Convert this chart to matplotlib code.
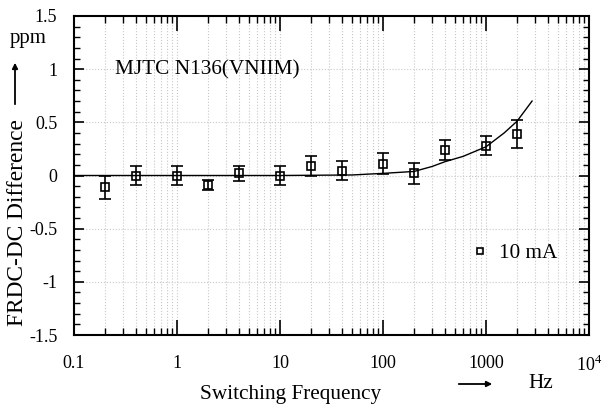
import matplotlib
matplotlib.use("Agg")
import matplotlib.pyplot as plt
from matplotlib.ticker import FixedLocator, NullFormatter, MultipleLocator

plt.rcParams['font.family'] = ['Liberation Serif', 'DejaVu Serif']
plt.rcParams['mathtext.fontset'] = 'custom'
plt.rcParams['mathtext.rm'] = 'Liberation Serif'

# data
freq = [0.2, 0.4, 1, 2, 4, 10, 20, 40, 100, 200, 400, 1000, 2000]
diff = [-0.11, 0.0, 0.0, -0.09, 0.02, 0.0, 0.09, 0.045, 0.11, 0.02, 0.24, 0.28, 0.39]
err = [0.11, 0.09, 0.09, 0.05, 0.07, 0.09, 0.09, 0.09, 0.10, 0.10, 0.09, 0.09, 0.13]

curve_f = [0.1, 1, 10, 50, 100, 200, 300, 400, 600, 1000, 1500, 2000, 2800]
curve_y = [0.0, 0.0, 0.0, 0.005, 0.02, 0.038, 0.085, 0.13, 0.18, 0.27, 0.40, 0.51, 0.70]

xticks = [0.1, 1, 10, 100, 1000, 10000]
xticklabels = ['0.1', '1', '10', '100', '1000', r'$10^4$']
yticks = [-1.5, -1, -0.5, 0, 0.5, 1, 1.5]
yticklabels = ['-1.5', '-1', '-0.5', '0', '0.5', '1', '1.5']

fig = plt.figure(figsize=(6.03, 4.05), dpi=100)
ax = fig.add_axes([74/603, 1-335/405, (589-74)/603, (335-16)/405])

ax.plot(curve_f, curve_y, color='black', lw=1.0, zorder=3)
ax.errorbar(freq, diff, yerr=err, fmt='s', mfc='none', mec='black', mew=1.2,
            ms=5.5, ecolor='black', elinewidth=1.2, capsize=4, capthick=1.2, zorder=4)

ax.set_xscale('log')
ax.set_xlim(0.1, 10000)
ax.set_ylim(-1.5, 1.5)
ax.set_xticks(xticks)
ax.set_xticklabels(xticklabels, fontsize=13)
ax.xaxis.set_minor_locator(FixedLocator([m * 10**e for e in range(-1, 4) for m in range(2, 10)]))
ax.xaxis.set_minor_formatter(NullFormatter())
ax.set_yticks(yticks)
ax.set_yticklabels(yticklabels, fontsize=13)
ax.yaxis.set_minor_locator(MultipleLocator(0.1))

ax.tick_params(axis='x', which='major', direction='in', length=11, width=1.2, top=True, pad=14.5)
ax.tick_params(axis='x', which='minor', direction='in', length=5, width=1.0, top=True)
ax.tick_params(axis='y', which='major', direction='in', length=7, width=1.2, right=True, pad=12)
ax.tick_params(axis='y', which='minor', direction='in', length=4, width=1.0, right=True)
for s in ax.spines.values():
    s.set_linewidth(1.5)

ax.grid(True, which='major', axis='both', color='#c8c8c8', ls=':', lw=0.8)
ax.grid(True, which='minor', axis='x', color='#c8c8c8', ls=':', lw=0.8)
ax.set_axisbelow(True)

fig.text(115/603, 1-70/405, 'MJTC N136(VNIIM)', fontsize=15.3, va='center', ha='left')

# legend
ax.plot([880], [-0.71], 's', mfc='none', mec='black', mew=1.2, ms=5)
fig.text(499/603, 1-254/405, '10 mA', fontsize=15.3, va='center', ha='left')

# y label with arrow and unit
fig.text(18/603, 1-223/405, 'FRDC-DC Difference', rotation=90, fontsize=16.8, va='center', ha='center')
fig.text(28/603, 1-38/405, 'ppm', fontsize=15, va='center', ha='center')
fig.add_artist(matplotlib.patches.FancyArrowPatch((15/603, 1-107/405), (15/603, 1-60/405),
               transform=fig.transFigure, arrowstyle='-|>', mutation_scale=8, lw=1.3, color='black'))

# x label with arrow and unit
fig.text(291/603, 1-394/405, 'Switching Frequency', fontsize=15.3, va='center', ha='center')
fig.text(541/603, 1-384/405, 'Hz', fontsize=15.3, va='center', ha='center')
fig.add_artist(matplotlib.patches.FancyArrowPatch((456/603, 1-384/405), (495/603, 1-384/405),
               transform=fig.transFigure, arrowstyle='-|>', mutation_scale=8, lw=1.3, color='black'))

fig.savefig('out.png', dpi=100)
